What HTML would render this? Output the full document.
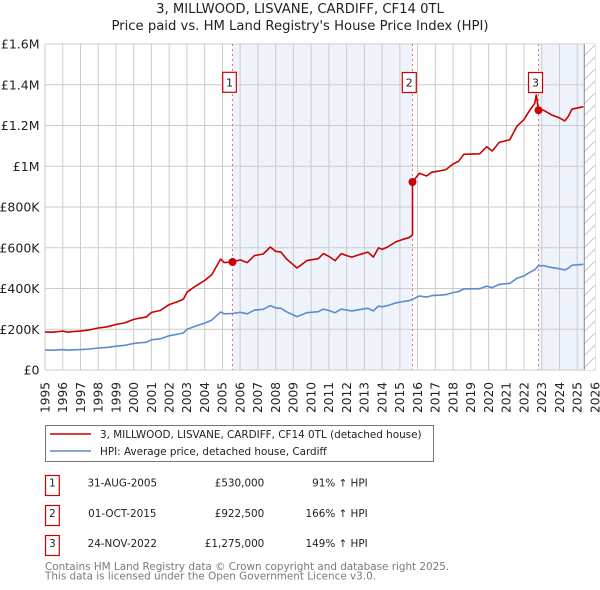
<!DOCTYPE html>
<html><head><meta charset="utf-8"><style>
html,body{margin:0;padding:0;background:#fff;}
svg{display:block;font-family:"DejaVu Sans","Liberation Sans",sans-serif;}
</style></head><body>
<svg width="600" height="590" viewBox="0 0 600 590" xmlns="http://www.w3.org/2000/svg">
<rect width="600" height="590" fill="#fff"/>
<text x="300" y="13" font-size="13.2" text-anchor="middle" fill="#222">3, MILLWOOD, LISVANE, CARDIFF, CF14 0TL</text>
<text x="300" y="30" font-size="13.2" text-anchor="middle" fill="#222">Price paid vs. HM Land Registry's House Price Index (HPI)</text>
<!-- shading -->
<rect x="232.5" y="44" width="180" height="326" fill="#eef3fc"/>
<rect x="538.5" y="44" width="45.8" height="326" fill="#eef3fc"/>
<!-- grid -->
<g stroke="#cccccc" stroke-width="1" fill="none">
<path d="M45,44H595M45,84.75H595M45,125.5H595M45,166.25H595M45,207H595M45,247.75H595M45,288.5H595M45,329.25H595M45,370H595"/>
<path d="M45,44V370M62.74,44V370M80.48,44V370M98.23,44V370M115.97,44V370M133.71,44V370M151.45,44V370M169.19,44V370M186.94,44V370M204.68,44V370M222.42,44V370M240.16,44V370M257.9,44V370M275.65,44V370M293.39,44V370M311.13,44V370M328.87,44V370M346.61,44V370M364.36,44V370M382.1,44V370M399.84,44V370M417.58,44V370M435.32,44V370M453.07,44V370M470.81,44V370M488.55,44V370M506.29,44V370M524.03,44V370M541.78,44V370M559.52,44V370M577.26,44V370M595,44V370"/>
</g>
<!-- hatch -->
<defs><clipPath id="hc"><rect x="584.3" y="44" width="10.7" height="326"/></clipPath></defs>
<rect x="584.3" y="44" width="10.7" height="326" fill="#fff"/>
<g clip-path="url(#hc)" stroke="#bbbbbb" stroke-width="0.8">
<path d="M584,56L596,44M584,68L596,56M584,80L596,68M584,92L596,80M584,104L596,92M584,116L596,104M584,128L596,116M584,140L596,128M584,152L596,140M584,164L596,152M584,176L596,164M584,188L596,176M584,200L596,188M584,212L596,200M584,224L596,212M584,236L596,224M584,248L596,236M584,260L596,248M584,272L596,260M584,284L596,272M584,296L596,284M584,308L596,296M584,320L596,308M584,332L596,320M584,344L596,332M584,356L596,344M584,368L596,356M584,380L596,368"/>
</g>
<path d="M584.3,44V370" stroke="#888" stroke-width="1"/>
<!-- sale lines -->
<g stroke="#f07070" stroke-width="1" stroke-dasharray="2,3">
<path d="M232.5,44V370M412.5,44V370M538.5,44V370"/>
</g>
<!-- HPI line -->
<path fill="none" stroke="#5b8bd0" stroke-width="1.6" stroke-linejoin="round" d="M45,350.0 L52.1,350.2 L59.2,349.8 L62.7,349.6 L68.1,350.2 L73.4,349.8 L80.5,349.6 L89.4,349.0 L98.2,348.0 L107.1,347.4 L116.0,346.2 L124.8,345.3 L133.7,343.5 L140.8,342.7 L146.2,342.3 L151.5,339.8 L160.3,338.8 L169.2,335.8 L178.1,334.1 L183.4,332.9 L187.0,329.3 L195.8,326.0 L204.7,323.1 L211.8,320.1 L220.6,311.9 L224.2,313.8 L232.5,313.5 L240.2,312.3 L247.3,313.8 L254.4,310.1 L263.2,309.3 L270.3,305.6 L275.6,307.9 L281.0,308.3 L286.3,311.7 L296.9,316.6 L302.2,314.6 L306.7,312.7 L318.2,311.7 L323.5,309.1 L328.9,310.5 L335.1,312.7 L341.3,309.1 L346.6,310.1 L351.9,310.9 L359.0,309.7 L367.9,308.3 L373.3,310.9 L378.6,306.0 L382.1,306.8 L387.5,305.6 L396.3,302.8 L403.4,301.5 L408.8,300.7 L412.5,299.3 L419.4,296.0 L426.5,297.1 L431.9,295.6 L439.0,295.2 L446.1,294.6 L453.1,292.6 L458.5,291.6 L463.8,288.9 L479.7,288.7 L486.8,286.1 L492.2,287.7 L499.2,284.4 L509.8,283.4 L517.0,278.3 L524.0,275.9 L529.3,272.6 L534.7,269.8 L538.5,265.7 L543.5,265.7 L552.4,267.7 L559.5,268.7 L564.8,270.0 L568.4,268.1 L571.9,265.3 L583.4,264.3"/>
<!-- price line -->
<path fill="none" stroke="#cc0000" stroke-width="1.6" stroke-linejoin="round" d="M45,331.9 L52.1,332.2 L59.2,331.5 L62.7,331.1 L68.1,332.2 L73.4,331.5 L80.5,331.1 L89.4,329.9 L98.2,328.0 L107.1,326.8 L116.0,324.5 L124.8,322.9 L133.7,319.4 L140.8,317.9 L146.2,317.1 L151.5,312.4 L160.3,310.5 L169.2,304.6 L178.1,301.5 L183.4,299.2 L187.0,292.2 L195.8,285.9 L204.7,280.5 L211.8,274.6 L220.6,259.1 L224.2,262.6 L232.5,262.0 L240.2,259.9 L247.3,262.6 L254.4,255.6 L263.2,254.0 L270.3,247.0 L275.6,251.3 L281.0,252.1 L286.3,258.7 L296.9,268.0 L302.2,264.2 L306.7,260.6 L318.2,258.7 L323.5,253.6 L328.9,256.4 L335.1,260.6 L341.3,253.6 L346.6,255.6 L351.9,257.1 L359.0,254.8 L367.9,252.1 L373.3,257.1 L378.6,247.8 L382.1,249.4 L387.5,247.0 L396.3,241.6 L403.4,239.2 L408.8,237.7 L412.5,235.0 L412.5,182.0 L419.4,173.3 L426.5,176.0 L431.9,172.2 L439.0,171.1 L446.1,169.5 L453.1,164.0 L458.5,161.3 L463.8,154.3 L479.7,153.8 L486.8,146.7 L492.2,151.0 L499.2,142.4 L509.8,139.7 L517.0,126.1 L524.0,119.6 L529.3,110.9 L534.7,103.4 L536.3,95 L538.5,110.2 L543.5,110.2 L552.4,115.3 L559.5,117.9 L564.8,120.9 L568.4,116.3 L571.9,109.2 L583.4,106.7"/>
<g fill="#cc0000">
<circle cx="232.5" cy="262" r="4"/>
<circle cx="412.5" cy="182" r="4"/>
<circle cx="538.5" cy="110.2" r="4"/>
</g>
<!-- sale label boxes -->
<g fill="#fff" stroke="#cc0000" stroke-width="1.2">
<rect x="222.7" y="72.3" width="13.6" height="20"/>
<rect x="402.3" y="72.5" width="14" height="20"/>
<rect x="528.5" y="72.5" width="14" height="20"/>
</g>
<g font-size="11" text-anchor="middle" fill="#222">
<text x="229.5" y="86.5">1</text>
<text x="409.3" y="86.5">2</text>
<text x="535.5" y="86.5">3</text>
</g>
<!-- y labels -->
<g font-size="12.5" text-anchor="end" fill="#222">
<text x="39.5" y="48.5">£1.6M</text>
<text x="39.5" y="89.25">£1.4M</text>
<text x="39.5" y="130">£1.2M</text>
<text x="39.5" y="170.75">£1M</text>
<text x="39.5" y="211.5">£800K</text>
<text x="39.5" y="252.25">£600K</text>
<text x="39.5" y="293">£400K</text>
<text x="39.5" y="333.75">£200K</text>
<text x="39.5" y="374.5">£0</text>
</g>
<!-- x labels -->
<g font-size="12.2" text-anchor="end" fill="#222">
<text transform="translate(49.3,382) rotate(-90)">1995</text>
<text transform="translate(67.04,382) rotate(-90)">1996</text>
<text transform="translate(84.78,382) rotate(-90)">1997</text>
<text transform="translate(102.53,382) rotate(-90)">1998</text>
<text transform="translate(120.27,382) rotate(-90)">1999</text>
<text transform="translate(138.01,382) rotate(-90)">2000</text>
<text transform="translate(155.75,382) rotate(-90)">2001</text>
<text transform="translate(173.49,382) rotate(-90)">2002</text>
<text transform="translate(191.24,382) rotate(-90)">2003</text>
<text transform="translate(208.98,382) rotate(-90)">2004</text>
<text transform="translate(226.72,382) rotate(-90)">2005</text>
<text transform="translate(244.46,382) rotate(-90)">2006</text>
<text transform="translate(262.2,382) rotate(-90)">2007</text>
<text transform="translate(279.95,382) rotate(-90)">2008</text>
<text transform="translate(297.69,382) rotate(-90)">2009</text>
<text transform="translate(315.43,382) rotate(-90)">2010</text>
<text transform="translate(333.17,382) rotate(-90)">2011</text>
<text transform="translate(350.91,382) rotate(-90)">2012</text>
<text transform="translate(368.66,382) rotate(-90)">2013</text>
<text transform="translate(386.4,382) rotate(-90)">2014</text>
<text transform="translate(404.14,382) rotate(-90)">2015</text>
<text transform="translate(421.88,382) rotate(-90)">2016</text>
<text transform="translate(439.62,382) rotate(-90)">2017</text>
<text transform="translate(457.37,382) rotate(-90)">2018</text>
<text transform="translate(475.11,382) rotate(-90)">2019</text>
<text transform="translate(492.85,382) rotate(-90)">2020</text>
<text transform="translate(510.59,382) rotate(-90)">2021</text>
<text transform="translate(528.33,382) rotate(-90)">2022</text>
<text transform="translate(546.08,382) rotate(-90)">2023</text>
<text transform="translate(563.82,382) rotate(-90)">2024</text>
<text transform="translate(581.56,382) rotate(-90)">2025</text>
<text transform="translate(599.3,382) rotate(-90)">2026</text>
</g>
<!-- legend -->
<rect x="45.5" y="425.5" width="388" height="36" fill="#fff" stroke="#777" stroke-width="1"/>
<path d="M50,434H91" stroke="#cc0000" stroke-width="1.6"/>
<path d="M50,451H91" stroke="#5b8bd0" stroke-width="1.6"/>
<g font-size="10.4" fill="#222">
<text x="100" y="437.8">3, MILLWOOD, LISVANE, CARDIFF, CF14 0TL (detached house)</text>
<text x="100" y="454.8">HPI: Average price, detached house, Cardiff</text>
</g>
<!-- table -->
<g fill="none" stroke="#cc0000" stroke-width="1.2">
<rect x="45.5" y="475.5" width="13.8" height="20"/>
<rect x="45.5" y="505.5" width="13.8" height="20"/>
<rect x="45.5" y="535.5" width="13.8" height="20"/>
</g>
<g font-size="10.4" fill="#222">
<text x="52.4" y="486.5" text-anchor="middle">1</text>
<text x="122.3" y="486.5" text-anchor="middle">31-AUG-2005</text>
<text x="264.3" y="486.5" text-anchor="end">£530,000</text>
<text x="367.7" y="486.5" text-anchor="end">91% ↑ HPI</text>
<text x="52.4" y="517" text-anchor="middle">2</text>
<text x="122.3" y="517" text-anchor="middle">01-OCT-2015</text>
<text x="264.3" y="517" text-anchor="end">£922,500</text>
<text x="367.7" y="517" text-anchor="end">166% ↑ HPI</text>
<text x="52.4" y="547" text-anchor="middle">3</text>
<text x="122.3" y="547" text-anchor="middle">24-NOV-2022</text>
<text x="264.3" y="547" text-anchor="end">£1,275,000</text>
<text x="367.7" y="547" text-anchor="end">149% ↑ HPI</text>
</g>
<g font-size="10.4" fill="#7a7a7a">
<text x="45" y="570">Contains HM Land Registry data © Crown copyright and database right 2025.</text>
<text x="45" y="579.6">This data is licensed under the Open Government Licence v3.0.</text>
</g>
</svg>
</body></html>
